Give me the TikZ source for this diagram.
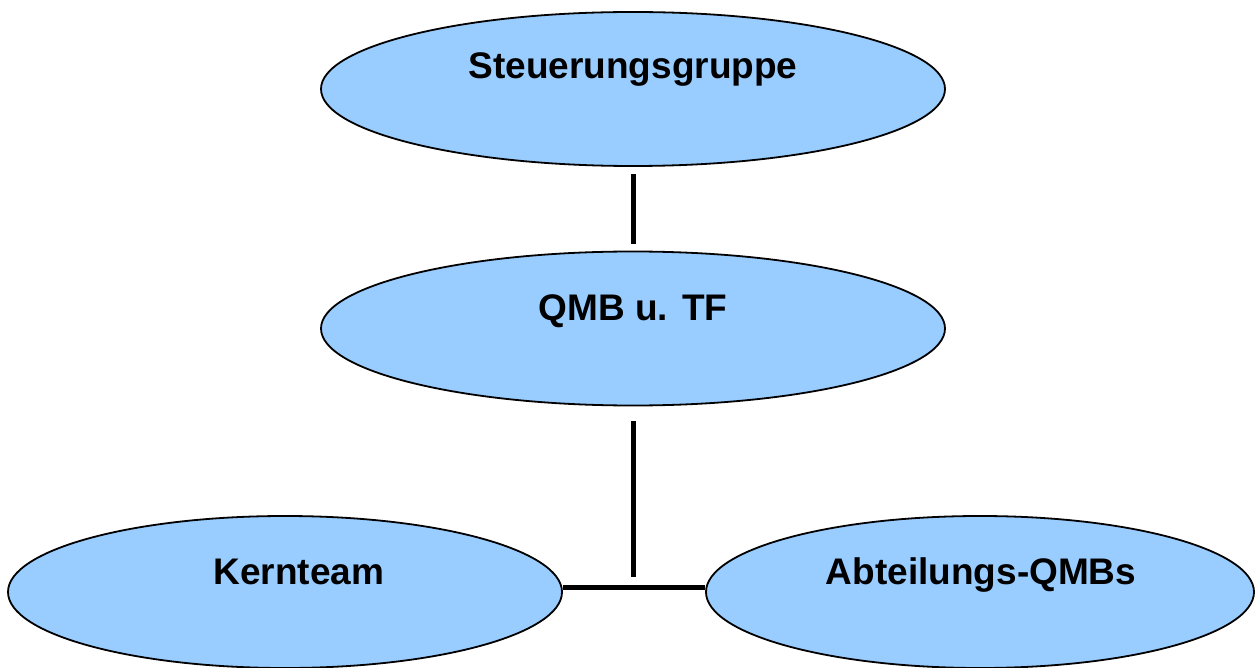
\documentclass[tikz,border=0pt]{standalone}
\usepackage{fontspec}
\setmainfont{Liberation Sans}
\usetikzlibrary{shapes.geometric}
\definecolor{boxblue}{HTML}{99CCFF}
\tikzset{
  group/.style={ellipse, draw=black, line width=1.8pt, fill=boxblue, inner sep=0pt},
  title/.style={anchor=base, font=\fontsize{37}{40}\bfseries\selectfont, inner sep=0pt},
  link/.style={line width=5pt}
}
\begin{document}
\begin{tikzpicture}[x=1pt, y=-1pt]
  \useasboundingbox (0,0) rectangle (1255,668);
  % committee ellipses
  \node[group, minimum width=624pt, minimum height=154pt] (s) at (633,89) {};
  \node[group, minimum width=624pt, minimum height=154pt] (q) at (633,328.5) {};
  \node[group, minimum width=554pt, minimum height=152pt] (k) at (285,592) {};
  \node[group, minimum width=548pt, minimum height=152pt] (a) at (980,592) {};
  % labels
  \node[title] (st) at ([yshift=10pt]s.center) {Steuerungsgruppe};
  \node[title] (qt) at ([yshift=8.5pt]q.center) {QMB u. TF};
  \node[title] (kt) at ([xshift=14pt,yshift=8pt]k.center) {Kernteam};
  \node[title] (at) at ([xshift=1pt,yshift=8pt]a.center) {Abteilungs-QMBs};
  % connectors
  \coordinate (j) at (633,587.5);
  \draw[link] ([yshift=-7pt]s.south) -- ([yshift=7pt]q.north);
  \draw[link] ([yshift=-15pt]q.south) -- ([yshift=11pt]j);
  \draw[link] (k.east |- j) -- (a.west |- j);
\end{tikzpicture}
\end{document}
